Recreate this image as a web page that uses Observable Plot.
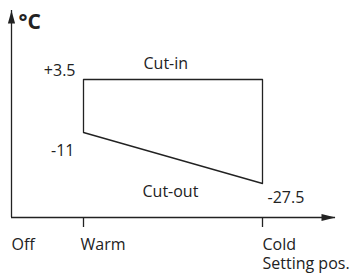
<!DOCTYPE html>
<html><head><meta charset="utf-8">
<script src="https://cdn.jsdelivr.net/npm/d3@7"></script>
<script src="https://cdn.jsdelivr.net/npm/@observablehq/plot@0.6"></script>
<style>body{margin:0;background:#fff}</style>
</head><body><div id="chart"></div>
<script>
// ---- data ----
const settings = ["Off", "Warm", "Cold"];
const settingPos = [0, 1, 2];
const cutInTemps = [3.5, 3.5];      // at Warm, Cold
const cutOutTemps = [-11, -27.5];   // at Warm, Cold
const tempLabels = ["+3.5", "-11", "-27.5"];
const curveNames = ["Cut-in", "Cut-out"];
const yUnit = "°C";
const xTitle = "Setting pos.";

// schematic (non-linear) axis extents
const yAxisVal = -38.5, yTopVal = 22.4, tickBottomVal = -41.7, xEndVal = 2.41;

const ink = "#222";
const font = "Open Sans";

const poly = [
  {x: settingPos[1], y: cutInTemps[0]},
  {x: settingPos[2], y: cutInTemps[1]},
  {x: settingPos[2], y: cutOutTemps[1]},
  {x: settingPos[1], y: cutOutTemps[0]},
  {x: settingPos[1], y: cutInTemps[0]}
];

const arrowUp = {draw(ctx) { ctx.moveTo(0, 0); ctx.lineTo(3.6, 13); ctx.lineTo(-3.6, 13); ctx.closePath(); }};
const arrowRight = {draw(ctx) { ctx.moveTo(0, 0); ctx.lineTo(-14, 3.6); ctx.lineTo(-14, -3.6); ctx.closePath(); }};

const tempText = [
  {x: settingPos[1], y: cutInTemps[0], t: tempLabels[0], anchor: "end", dx: -8, dy: -4},
  {x: settingPos[1], y: cutOutTemps[0], t: tempLabels[1], anchor: "end", dx: -9, dy: 23},
  {x: settingPos[2], y: cutOutTemps[1], t: tempLabels[2], anchor: "start", dx: 5, dy: 19}
];
const curveText = [
  {x: settingPos[1], y: cutInTemps[0], t: curveNames[0], dx: 60, dy: -11},
  {x: settingPos[1], y: cutOutTemps[0], t: curveNames[1], dx: 59, dy: 64}
];
const xText = settings.map((s, i) => ({x: settingPos[i], t: i === 2 ? s + "\n" + xTitle : s, dx: i === 1 ? -3 : 0}));

const chart = Plot.plot({
  width: 355, height: 273,
  margin: 0,
  x: {type: "linear", domain: [0, 1, 2, xEndVal], range: [11, 83, 262, 335], axis: null},
  y: {type: "linear", domain: [tickBottomVal, yAxisVal, -27.5, -11, 3.5, yTopVal], range: [227, 217, 183, 132, 79, 10], axis: null},
  style: {fontFamily: font, background: "#fff"},
  marks: [
    Plot.ruleX([settingPos[0]], {y1: yAxisVal, y2: yTopVal, stroke: ink, strokeWidth: 1.3}),
    Plot.ruleY([yAxisVal], {x1: settingPos[0], x2: xEndVal, stroke: ink, strokeWidth: 1.3}),
    Plot.ruleX([settingPos[1], settingPos[2]], {y1: yAxisVal, y2: tickBottomVal, stroke: ink, strokeWidth: 1.3}),
    Plot.dot([{x: settingPos[0], y: yTopVal}], {x: "x", y: "y", symbol: arrowUp, fill: ink, stroke: "none"}),
    Plot.dot([{x: xEndVal, y: yAxisVal}], {x: "x", y: "y", symbol: arrowRight, fill: ink, stroke: "none"}),
    Plot.line(poly, {x: "x", y: "y", stroke: ink, strokeWidth: 1.3}),
    ...tempText.map(d => Plot.text([d], {x: "x", y: "y", text: "t", textAnchor: d.anchor, dx: d.dx, dy: d.dy, lineAnchor: "bottom", fontSize: 16, fill: ink})),
    ...curveText.map(d => Plot.text([d], {x: "x", y: "y", text: "t", textAnchor: "start", dx: d.dx, dy: d.dy, lineAnchor: "bottom", fontSize: 16, fill: ink})),
    ...xText.map(d => Plot.text([d], {x: "x", y: () => yAxisVal, text: "t", textAnchor: "start", dx: d.dx, dy: 18, lineAnchor: "top", lineHeight: 1.24, fontSize: 16, fill: ink})),
    Plot.text([yUnit], {x: settingPos[0], y: yTopVal, text: d => d, textAnchor: "start", lineAnchor: "bottom", dx: 7, dy: 18, fontSize: 21, fontWeight: "bold", fill: ink})
  ]
});
document.getElementById("chart").appendChild(chart);
</script>
</body></html>
